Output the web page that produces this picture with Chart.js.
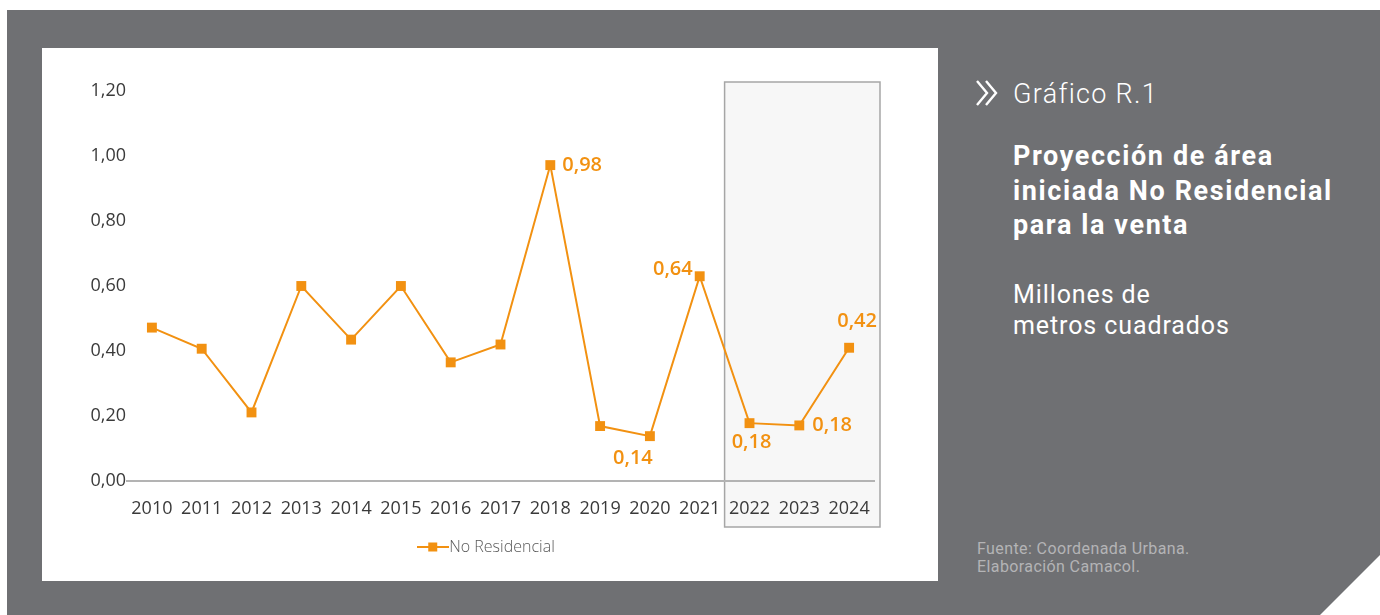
<!DOCTYPE html>
<html>
<head>
<meta charset="utf-8">
<script src="https://cdn.jsdelivr.net/npm/chart.js@4.4.1/dist/chart.umd.min.js"></script>
<style>
  html, body { margin: 0; padding: 0; background: #ffffff; }
  body { width: 1380px; height: 615px; position: relative; overflow: hidden; font-family: Roboto, sans-serif; }
  #bg {
    position: absolute; left: 7px; top: 10px; width: 1373px; height: 605px;
    background: #6f7073;
    clip-path: polygon(0 0, 100% 0, 100% 545px, 1313px 100%, 0 100%);
  }
  #panel { position: absolute; left: 42px; top: 48px; width: 896px; height: 533px; background: #ffffff; }
  #chevron { position: absolute; left: 975px; top: 79px; }
  #kicker { position: absolute; left: 1013px; top: 78px; color: #ffffff; font-size: 27px; line-height: 32px; font-weight: 300; letter-spacing: 1.3px; }
  #title { position: absolute; left: 1013px; top: 139px; color: #ffffff; font-size: 27px; font-weight: 700; line-height: 34.5px; letter-spacing: 1.6px; }
  #unit { position: absolute; left: 1013px; top: 279px; color: #ffffff; font-size: 25px; font-weight: 400; line-height: 31px; letter-spacing: 0.9px; }
  #source { position: absolute; left: 977px; top: 540px; color: #b4b4b6; font-size: 16px; line-height: 18px; letter-spacing: 0.4px; }
</style>
</head>
<body>
<div id="bg"></div>
<div id="panel"><canvas id="chart" width="896" height="533"></canvas></div>
<svg id="chevron" width="26" height="28" viewBox="0 0 26 28">
  <polyline points="2,2 12,14 2,26" fill="none" stroke="#ffffff" stroke-width="2.4"/>
  <polyline points="11,2 21,14 11,26" fill="none" stroke="#ffffff" stroke-width="2.4"/>
</svg>
<div id="kicker">Gráfico R.1</div>
<div id="title">Proyección de área<br>iniciada No Residencial<br>para la venta</div>
<div id="unit">Millones de<br>metros cuadrados</div>
<div id="source">Fuente: Coordenada Urbana.<br>Elaboración Camacol.</div>

<script>
// ---- data ----
const years = ['2010', '2011', '2012', '2013', '2014', '2015', '2016', '2017',
               '2018', '2019', '2020', '2021', '2022', '2023', '2024'];
const noResidencial = [0.472, 0.407, 0.211, 0.60, 0.435, 0.60, 0.365, 0.42,
                       0.972, 0.169, 0.138, 0.63, 0.178, 0.171, 0.41];
const yTicks = [0, 0.2, 0.4, 0.6, 0.8, 1.0, 1.2];
const projectionYears = ['2022', '2023', '2024'];
const labelledYears = ['2018', '2020', '2021', '2022', '2023', '2024'];
const labelledValues = [0.98, 0.14, 0.64, 0.18, 0.18, 0.42];

const ORANGE = '#f29111';
const fmt = v => v.toFixed(2).replace('.', ',');

// label offsets from its point [dx, dy, align]
const labelPlacement = {
    '2018': [12, 0, 'left'],
    '2020': [-17, 22, 'center'],
    '2021': [-7, -7, 'right'],
    '2022': [2, 19, 'center'],
    '2023': [13, 0, 'left'],
    '2024': [8, -26, 'center']
};

// shaded box behind the projection years
const projectionBox = {
    id: 'projectionBox',
    beforeDraw(chart) {
        const x = chart.scales.x, y = chart.scales.y;
        const first = x.getPixelForValue(years.indexOf(projectionYears[0]));
        const last = x.getPixelForValue(years.indexOf(projectionYears[projectionYears.length - 1]));
        const half = (x.getPixelForValue(1) - x.getPixelForValue(0)) / 2;
        const left = first - half, right = last + half + 6;
        const top = y.getPixelForValue(1.2) - 9, bottom = y.getPixelForValue(0) + 46;
        const ctx = chart.ctx;
        ctx.save();
        ctx.fillStyle = '#f7f7f7';
        ctx.fillRect(left, top, right - left, bottom - top);
        ctx.strokeStyle = '#a6a6a6';
        ctx.lineWidth = 1.5;
        ctx.strokeRect(left, top, right - left, bottom - top);
        ctx.restore();
    }
};

const valueLabels = {
    id: 'valueLabels',
    afterDatasetsDraw(chart) {
        const meta = chart.getDatasetMeta(0);
        const ctx = chart.ctx;
        ctx.save();
        ctx.font = '600 20px "Open Sans"';
        ctx.fillStyle = ORANGE;
        ctx.textBaseline = 'middle';
        labelledYears.forEach((yr, i) => {
            const pt = meta.data[years.indexOf(yr)];
            const [dx, dy, align] = labelPlacement[yr];
            ctx.textAlign = align;
            ctx.fillText(fmt(labelledValues[i]), pt.x + dx, pt.y + dy);
        });
        ctx.restore();
    }
};

// legend symbol: short line with a square in the middle
function legendSymbol() {
    const c = document.createElement('canvas');
    c.width = 32; c.height = 12;
    const g = c.getContext('2d');
    g.strokeStyle = ORANGE; g.lineWidth = 2;
    g.beginPath(); g.moveTo(0, 6); g.lineTo(32, 6); g.stroke();
    g.fillStyle = ORANGE; g.fillRect(11, 1.5, 9, 9);
    return c;
}

new Chart(document.getElementById('chart'), {
    type: 'line',
    data: {
        labels: years,
        datasets: [{
            label: 'No Residencial',
            data: noResidencial,
            borderColor: ORANGE,
            backgroundColor: ORANGE,
            borderWidth: 2,
            tension: 0,
            pointStyle: 'rect',
            pointRadius: 7,
            pointHoverRadius: 7,
            pointBorderWidth: 0
        }]
    },
    options: {
        responsive: false,
        animation: false,
        events: [],
        layout: { padding: { top: 43, right: 0, bottom: 16, left: 0 } },
        plugins: {
            tooltip: { enabled: false },
            legend: {
                position: 'bottom',
                labels: {
                    usePointStyle: true,
                    pointStyle: legendSymbol(),
                    padding: 10,
                    font: { family: 'Open Sans', size: 16, weight: '300' },
                    color: '#595959'
                }
            }
        },
        scales: {
            x: {
                offset: true,
                grid: { display: false, drawTicks: false },
                border: { display: true, color: '#b3b3b3', width: 2 },
                ticks: { color: '#3a3a3a', padding: 17, maxRotation: 0, autoSkip: false,
                         font: { family: 'Open Sans', size: 18 } },
                afterFit: s => { s.height = 48; }
            },
            y: {
                min: 0, max: 1.2,
                afterBuildTicks: s => { s.ticks = yTicks.map(v => ({ value: v })); },
                grid: { display: false, drawTicks: false },
                border: { display: false },
                ticks: { color: '#3a3a3a', padding: 1, callback: v => fmt(v),
                         font: { family: 'Open Sans', size: 18 } },
                afterFit: s => { s.width = 85; }
            },
            // empty right-hand spacer so the legend stays centred on the panel
            spacer: {
                position: 'right',
                grid: { display: false, drawTicks: false },
                border: { display: false },
                ticks: { display: false },
                afterFit: s => { s.width = 64; }
            }
        }
    },
    plugins: [projectionBox, valueLabels]
});
</script>
</body>
</html>
